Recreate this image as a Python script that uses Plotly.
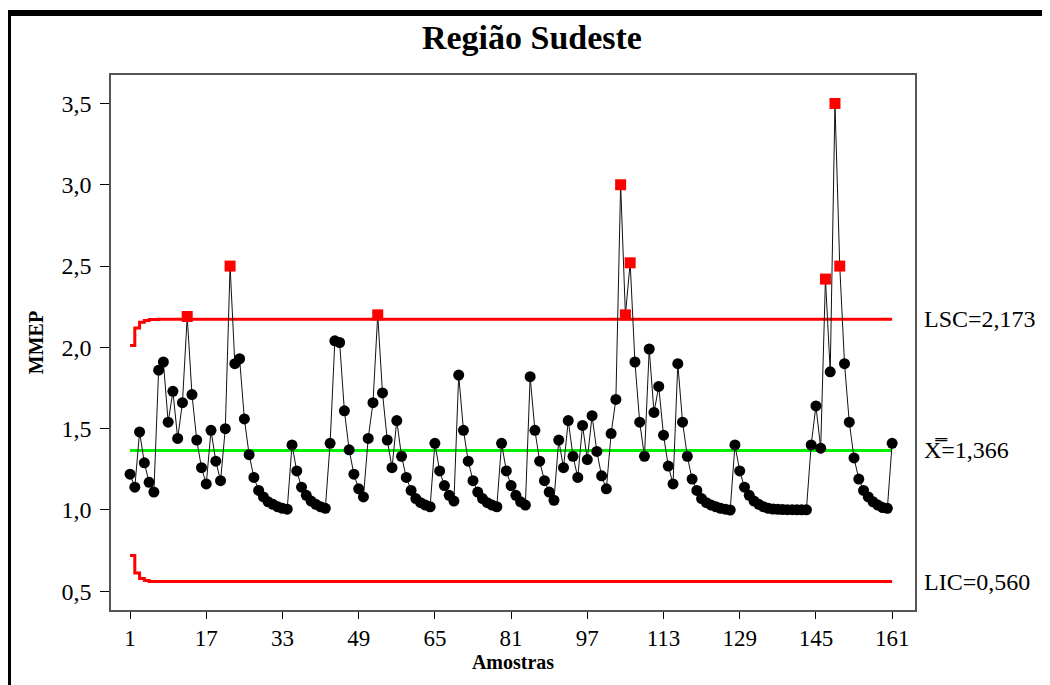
import plotly.graph_objects as go

samples = list(range(1, 162))
mmep = [
    1.22, 1.14, 1.48, 1.29, 1.17, 1.11, 1.86, 1.91, 1.54, 1.73,
    1.44, 1.66, 2.19, 1.71, 1.43, 1.26, 1.16, 1.49, 1.30, 1.18,
    1.50, 2.50, 1.90, 1.93, 1.56, 1.34, 1.20, 1.12, 1.08, 1.05,
    1.035, 1.02, 1.01, 1.005, 1.40, 1.24, 1.14, 1.09, 1.055, 1.035,
    1.02, 1.01, 1.41, 2.04, 2.03, 1.61, 1.37, 1.22, 1.13, 1.08,
    1.44, 1.66, 2.20, 1.72, 1.43, 1.26, 1.55, 1.33, 1.20, 1.12,
    1.07, 1.045, 1.03, 1.02, 1.41, 1.24, 1.15, 1.09, 1.055, 1.83,
    1.49, 1.30, 1.18, 1.11, 1.07, 1.045, 1.03, 1.02, 1.41, 1.24,
    1.15, 1.09, 1.05, 1.03, 1.82, 1.49, 1.30, 1.18, 1.11, 1.06,
    1.43, 1.26, 1.55, 1.33, 1.20, 1.52, 1.31, 1.58, 1.36, 1.21,
    1.13, 1.47, 1.68, 3.00, 2.20, 2.52, 1.91, 1.54, 1.33, 1.99,
    1.60, 1.76, 1.46, 1.27, 1.16, 1.90, 1.54, 1.33, 1.19, 1.12,
    1.07, 1.045, 1.03, 1.02, 1.01, 1.005, 1.00, 1.40, 1.24, 1.14,
    1.09, 1.055, 1.035, 1.02, 1.01, 1.006, 1.004, 1.003, 1.002, 1.002,
    1.001, 1.001, 1.001, 1.40, 1.64, 1.38, 2.42, 1.85, 3.50, 2.50,
    1.90, 1.54, 1.32, 1.19, 1.12, 1.08, 1.05, 1.03, 1.015, 1.01,
    1.41,
]

center = 1.366
ucl_start = [2.012, 2.119, 2.154, 2.166, 2.171, 2.172]
lcl_start = [0.720, 0.613, 0.578, 0.566, 0.561, 0.560]
ucl_final = 2.173
lcl_final = 0.560

ucl = ucl_start + [ucl_final] * (len(samples) - len(ucl_start))
lcl = lcl_start + [lcl_final] * (len(samples) - len(lcl_start))
cl = [center] * len(samples)

x_ticks = [1, 17, 33, 49, 65, 81, 97, 113, 129, 145, 161]
y_ticks = [0.5, 1.0, 1.5, 2.0, 2.5, 3.0, 3.5]

FONT = "Liberation Serif, Times New Roman, serif"

out_x = [s for s, v, u in zip(samples, mmep, ucl) if v > u]
out_y = [v for s, v, u in zip(samples, mmep, ucl) if v > u]
in_x = [s for s, v, u in zip(samples, mmep, ucl) if v <= u]
in_y = [v for s, v, u in zip(samples, mmep, ucl) if v <= u]

fig = go.Figure()
fig.add_trace(go.Scatter(x=samples, y=ucl, mode="lines", line=dict(color="#ff0000", width=3, shape="hv"), hoverinfo="skip"))
fig.add_trace(go.Scatter(x=samples, y=lcl, mode="lines", line=dict(color="#ff0000", width=3, shape="hv"), hoverinfo="skip"))
fig.add_trace(go.Scatter(x=samples, y=cl, mode="lines", line=dict(color="#00ee00", width=3), hoverinfo="skip"))
fig.add_trace(go.Scatter(x=samples, y=mmep, mode="lines", line=dict(color="#111111", width=1)))
fig.add_trace(go.Scatter(x=in_x, y=in_y, mode="markers", marker=dict(color="#000000", size=11, symbol="circle")))
fig.add_trace(go.Scatter(x=out_x, y=out_y, mode="markers", marker=dict(color="#ff0000", size=11, symbol="square")))

ann = [
    ("LSC=2,173", ucl_final),
    ("X\u033F=1,366", center),
    ("LIC=0,560", lcl_final),
]
annotations = [
    dict(x=1.0087, xref="paper", y=val, yref="y", text=txt, showarrow=False,
         xanchor="left", yanchor="middle", font=dict(family=FONT, size=24, color="#000"))
    for txt, val in ann
]

# margins account for the page's 8px body offset
ML, MR, MT, MB = 103, 143, 67, 83
PW = 1050 - ML - MR
PH = 685 - MT - MB

fig.update_layout(
    width=1050, height=685,
    margin=dict(l=ML, r=MR, t=MT, b=MB, autoexpand=False),
    paper_bgcolor="white", plot_bgcolor="white",
    showlegend=False,
    separators=",.",
    title=dict(text="<b>Região Sudeste</b>", x=0.499, xanchor="center", y=0.958, yanchor="middle",
               font=dict(family=FONT, size=34, color="#000")),
    annotations=annotations,
    shapes=[
        dict(type="line", xref="paper", yref="paper",
             x0=(0 - ML) / PW, x1=(1060 - ML) / PW,
             y0=(PH + MT - 5) / PH, y1=(PH + MT - 5) / PH,
             line=dict(color="black", width=6)),
        dict(type="line", xref="paper", yref="paper",
             x0=(0 - ML) / PW, x1=(0 - ML) / PW,
             y0=(PH + MT - 2) / PH, y1=-(MB + 20) / PH,
             line=dict(color="black", width=6)),
    ],
)
fig.update_xaxes(
    range=[-3.0, 165.8], tickvals=x_ticks, ticks="outside", ticklen=7, tickcolor="#000",
    showgrid=False, zeroline=False, showline=True, linecolor="#555", linewidth=1.5, mirror=True,
    tickfont=dict(family=FONT, size=23, color="#000"),
    title=dict(text="<b>Amostras</b>", font=dict(family=FONT, size=20, color="#000"), standoff=4),
)
fig.update_yaxes(
    range=[0.385, 3.675], tickvals=y_ticks, tickformat=".1f", ticks="outside", ticklen=9, tickcolor="#000",
    showgrid=False, zeroline=False, showline=True, linecolor="#555", linewidth=1.5, mirror=True,
    tickfont=dict(family=FONT, size=24, color="#000"), ticklabelstandoff=4,
    title=dict(text="<b>MMEP</b>", font=dict(family=FONT, size=20, color="#000"), standoff=12),
)

fig.write_html("out.html")
